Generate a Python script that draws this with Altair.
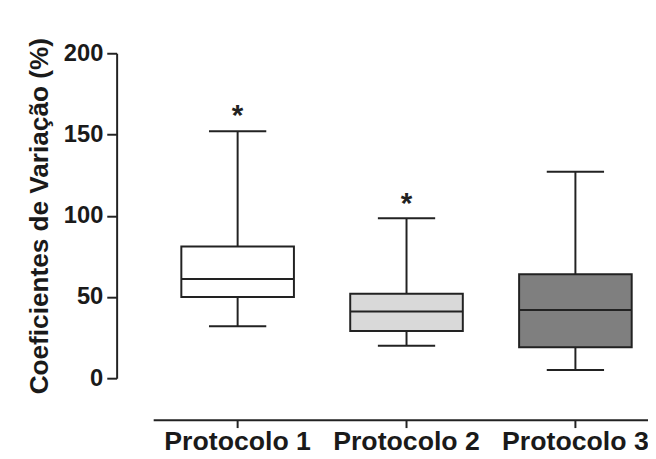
import altair as alt
import pandas as pd

categories = ["Protocolo 1", "Protocolo 2", "Protocolo 3"]
whisker_low = [32, 20, 5]
q1 = [50, 29, 19]
median = [61, 41, 42]
q3 = [81, 52, 64]
whisker_high = [152, 98.5, 127]
box_fill = ["#ffffff", "#d9d9d9", "#7f7f7f"]

star_categories = ["Protocolo 1", "Protocolo 2"]
star_y = [163, 109]
star_text = ["*", "*"]

y_ticks = [0, 50, 100, 150, 200]

df = pd.DataFrame({
    "protocolo": categories,
    "low": whisker_low,
    "q1": q1,
    "median": median,
    "q3": q3,
    "high": whisker_high,
    "fill": box_fill,
})
stars = pd.DataFrame({"protocolo": star_categories, "y": star_y, "label": star_text})

FONT = "Liberation Sans"
INK = "#222222"

x_enc = alt.X(
    "protocolo:N",
    scale=alt.Scale(domain=categories, range=[0, 513], paddingInner=0, paddingOuter=0),
    axis=alt.Axis(
        title=None, labelAngle=0, offset=42,
        domainColor=INK, domainWidth=2,
        tickColor=INK, tickWidth=2, tickSize=8,
        labelFont=FONT, labelFontSize=27, labelFontWeight="bold",
        labelColor="#1a1a1a", labelPadding=1,
    ),
)

y_scale = alt.Scale(domain=[0, 200], nice=False, zero=False)
y_axis = alt.Axis(
    values=y_ticks, grid=False, offset=37,
    domainColor=INK, domainWidth=2,
    tickColor=INK, tickWidth=2, tickSize=10,
    labelFont=FONT, labelFontSize=24, labelFontWeight="bold",
    labelColor="#1a1a1a", labelPadding=4,
    title="Coeficientes de Variação (%)",
    titleFont=FONT, titleFontSize=26.5, titleFontWeight="bold",
    titleColor="#1a1a1a", titlePadding=10,
)

base = alt.Chart(df).encode(x=x_enc)

upper = base.mark_rule(color=INK, strokeWidth=2).encode(
    y=alt.Y("q3:Q", scale=y_scale, axis=y_axis), y2="high:Q"
)
lower = base.mark_rule(color=INK, strokeWidth=2).encode(
    y=alt.Y("low:Q"), y2="q1:Q"
)
boxes = base.mark_bar(size=114, stroke=INK, strokeWidth=2, opacity=1).encode(
    y=alt.Y("q1:Q"), y2="q3:Q", fill=alt.Fill("fill:N", scale=None)
)
med = base.mark_tick(color=INK, thickness=2, size=114, opacity=1).encode(y=alt.Y("median:Q"))
cap_hi = base.mark_tick(color=INK, thickness=2, size=58, opacity=1).encode(y=alt.Y("high:Q"))
cap_lo = base.mark_tick(color=INK, thickness=2, size=58, opacity=1).encode(y=alt.Y("low:Q"))

star = alt.Chart(stars).mark_text(
    font=FONT, fontSize=30, fontWeight="bold", color=INK, baseline="middle", dy=3
).encode(x=x_enc, y=alt.Y("y:Q"), text="label:N")

chart = alt.layer(upper, lower, boxes, med, cap_hi, cap_lo, star).properties(
    width=501, height=329,
    background="white",
    autosize=alt.AutoSizeParams(type="none"),
    padding={"left": 147, "top": 43, "right": 0, "bottom": 79},
).configure_view(stroke=None)

chart.save("out.html", embed_options={"renderer": "svg", "actions": False})
